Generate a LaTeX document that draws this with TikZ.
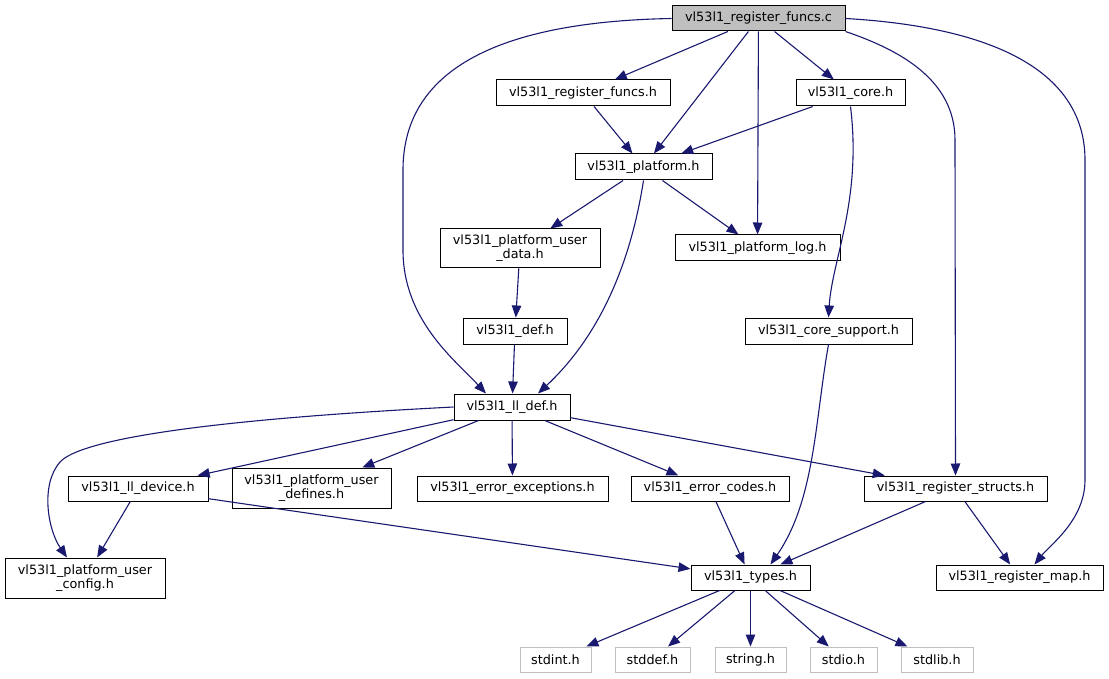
\documentclass[tikz,border=0pt]{standalone}
\usepackage{fontspec}
\setmainfont{DejaVu Sans}
\usetikzlibrary{arrows.meta}

\definecolor{edgeblue}{HTML}{191970}
\definecolor{topgray}{HTML}{BFBFBF}

\tikzset{
    file/.style={draw=black, fill=white, line width=1pt, inner sep=0pt,
        align=center, font=\fontsize{12.8}{14}\selectfont},
    sysfile/.style={file, draw=topgray},
    dep/.style={draw=edgeblue, line width=1.1pt,
        -{Triangle[length=12pt,width=9.5pt]}}
}

\begin{document}
\begin{tikzpicture}[x=1pt,y=-1pt]
    \useasboundingbox (0,0) rectangle (1109,679);

    % files
    \node (funcsc) [file, fill=topgray, minimum width=173, minimum height=25] at (758.5,18.5) {vl53l1\_register\_funcs.c};
    \node (funcsh) [file, minimum width=174, minimum height=26] at (583,93) {vl53l1\_register\_funcs.h};
    \node (core) [file, minimum width=109, minimum height=26] at (850.5,93) {vl53l1\_core.h};
    \node (platform) [file, minimum width=137, minimum height=26] at (643.5,167) {vl53l1\_platform.h};
    \node (userdata) [file, minimum width=160, minimum height=39] at (520,248.5) {vl53l1\_platform\_user\\\_data.h};
    \node (log) [file, minimum width=165, minimum height=26] at (757.5,248) {vl53l1\_platform\_log.h};
    \node (def) [file, minimum width=104, minimum height=26] at (515,331) {vl53l1\_def.h};
    \node (support) [file, minimum width=167, minimum height=26] at (828.5,331) {vl53l1\_core\_support.h};
    \node (lldef) [file, minimum width=116, minimum height=26] at (512,407) {vl53l1\_ll\_def.h};
    \node (lldevice) [file, minimum width=140, minimum height=25] at (138,488.5) {vl53l1\_ll\_device.h};
    \node (userdefines) [file, minimum width=159, minimum height=40] at (311.5,488) {vl53l1\_platform\_user\\\_defines.h};
    \node (exceptions) [file, minimum width=191, minimum height=25] at (512.5,488.5) {vl53l1\_error\_exceptions.h};
    \node (errcodes) [file, minimum width=158, minimum height=25] at (710,488.5) {vl53l1\_error\_codes.h};
    \node (structs) [file, minimum width=183, minimum height=25] at (955.5,488.5) {vl53l1\_register\_structs.h};
    \node (userconfig) [file, minimum width=160, minimum height=40] at (85,578) {vl53l1\_platform\_user\\\_config.h};
    \node (types) [file, minimum width=119, minimum height=25] at (750.5,577.5) {vl53l1\_types.h};
    \node (regmap) [file, minimum width=167, minimum height=25] at (1019.5,577.5) {vl53l1\_register\_map.h};

    % system headers
    \node (stdint) [sysfile, minimum width=71, minimum height=25] at (555.5,659.5) {stdint.h};
    \node (stddef) [sysfile, minimum width=75, minimum height=25] at (652.5,659.5) {stddef.h};
    \node (string) [sysfile, minimum width=71, minimum height=25] at (750.5,659.5) {string.h};
    \node (stdio) [sysfile, minimum width=67, minimum height=25] at (843.5,659.5) {stdio.h};
    \node (stdlib) [sysfile, minimum width=72, minimum height=25] at (937,659.5) {stdlib.h};

    % includes
    \draw [dep] (funcsc) -- (funcsh);
    \draw [dep] (funcsc) -- (platform);
    \draw [dep] (funcsc) -- (log);
    \draw [dep] (funcsc) -- (core);
    \draw [dep] (funcsc.west) .. controls (480,22) and (403,80) .. (403,170)
        -- (403,250) .. controls (403,320) and (455,360) .. ([xshift=-26pt]lldef.north);
    \draw [dep] (funcsc.south east) .. controls (900,50) and (955,80) .. (955,140)
        -- (structs.north);
    \draw [dep] (funcsc.east) .. controls (1010,28) and (1085,80) .. (1085,160)
        -- (1085,480) .. controls (1085,520) and (1050,545) .. ([xshift=15pt]regmap.north);
    \draw [dep] (funcsh) -- (platform);
    \draw [dep] (core) -- (platform);
    \draw [dep] (core.south) .. controls (862,200) and (832,260) .. (support.north);
    \draw [dep] (platform) -- (userdata);
    \draw [dep] (platform) -- (log);
    \draw [dep] (platform.south) .. controls (628,280) and (590,345) .. ([xshift=26pt]lldef.north);
    \draw [dep] (userdata) -- (def);
    \draw [dep] (def) -- (lldef);
    \draw [dep] (support.south) .. controls (815,420) and (815,500) .. ([xshift=20pt]types.north);
    \draw [dep] (lldef) -- (lldevice);
    \draw [dep] (lldef) -- (userdefines);
    \draw [dep] (lldef) -- (exceptions);
    \draw [dep] (lldef) -- (errcodes);
    \draw [dep] (lldef) -- (structs);
    \draw [dep] (lldef.west) .. controls (200,420) and (80,440) .. (60,462)
        .. controls (40,485) and (48,530) .. ([xshift=-18pt]userconfig.north);
    \draw [dep] (lldevice) -- (userconfig);
    \draw [dep] (lldevice) -- (types);
    \draw [dep] (errcodes) -- (types);
    \draw [dep] (structs) -- (types);
    \draw [dep] (structs) -- (regmap);
    \foreach \sys in {stdint,stddef,string,stdio,stdlib}
        \draw [dep] (types) -- (\sys);
\end{tikzpicture}
\end{document}
